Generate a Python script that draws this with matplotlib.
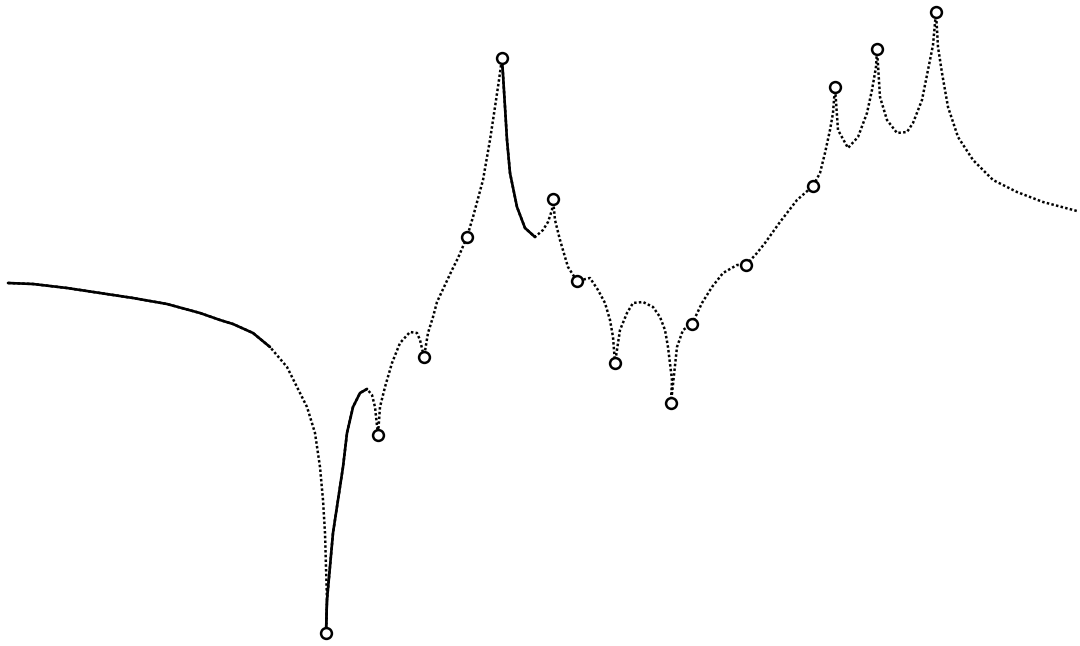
import matplotlib
matplotlib.use("Agg")
import matplotlib.pyplot as plt

# curve, in pixel coords (y grows downward)
CURVE_X = [8, 33, 67, 100, 133, 167, 200, 220, 233, 253, 270,
           287, 297, 307, 315, 320, 323, 325, 326, 327, 326,
           327, 333, 338, 343, 347, 353, 360, 367,
           372, 375, 378, 380, 385, 392, 400, 410, 417, 420, 424,
           428, 433, 437, 452, 458, 467, 473, 483, 490, 495, 499, 502,
           505, 507, 510, 517, 525, 535,
           543, 548, 552, 553, 555, 560, 565, 568, 577, 590, 598, 605, 610, 613, 615,
           620, 627, 633, 643, 653, 660, 665, 668, 672, 671,
           677, 683, 692, 702, 712, 723, 737, 746, 757, 765, 780, 797, 813,
           820, 825, 830, 833, 835,
           838, 848, 858, 867, 872, 876, 877,
           880, 887, 897, 907, 913, 922, 928, 933, 936,
           938, 942, 948, 958, 973, 993, 1017, 1043, 1077]
CURVE_Y = [283, 284, 288, 293, 298, 304, 313, 320, 324, 333, 347,
           367, 387, 407, 433, 467, 500, 533, 567, 600, 633,
           600, 533, 500, 467, 433, 407, 393, 389,
           395, 407, 435, 407, 387, 363, 343, 332, 333, 340, 357,
           333, 317, 302, 270, 258, 237, 217, 180, 140, 107, 80, 58,
           107, 140, 173, 207, 228, 237,
           230, 222, 210, 199, 220, 240, 257, 267, 281, 278, 290, 303, 320, 337, 363,
           330, 313, 303, 302, 307, 317, 330, 347, 380, 403,
           347, 330, 324, 303, 287, 273, 265, 265, 253, 243, 222, 200, 186,
           173, 153, 130, 113, 87,
           130, 148, 137, 113, 90, 67, 49,
           97, 120, 133, 132, 123, 100, 70, 45, 12,
           47, 73, 107, 137, 160, 180, 192, 202, 211]

# open circles on the curve
MARK_X = [326, 378, 424, 467, 502, 553, 577, 615, 671, 692, 746, 813, 835, 877, 936]
MARK_Y = [633, 435, 357, 237, 58, 199, 281, 363, 403, 324, 265, 186, 87, 49, 12]

# index runs drawn as a solid stroke; the rest is dotted
SOLID = [(0, 10), (20, 28), (51, 57)]

fig = plt.figure(figsize=(10.8, 6.46), dpi=100)
ax = fig.add_axes([0, 0, 1, 1])
ax.set_xlim(0, 1080); ax.set_ylim(646, 0)
ax.axis("off")

ax.plot(CURVE_X, CURVE_Y, color="black", lw=1.8, ls=(0, (1.0, 0.9)))
for a, b in SOLID:
    ax.plot(CURVE_X[a:b + 1], CURVE_Y[a:b + 1], color="black", lw=1.9, solid_capstyle="round")
ax.plot(MARK_X, MARK_Y, "o", ms=7.8, mfc="white", mec="black", mew=1.8, zorder=3)

fig.savefig("out.png", dpi=100)
